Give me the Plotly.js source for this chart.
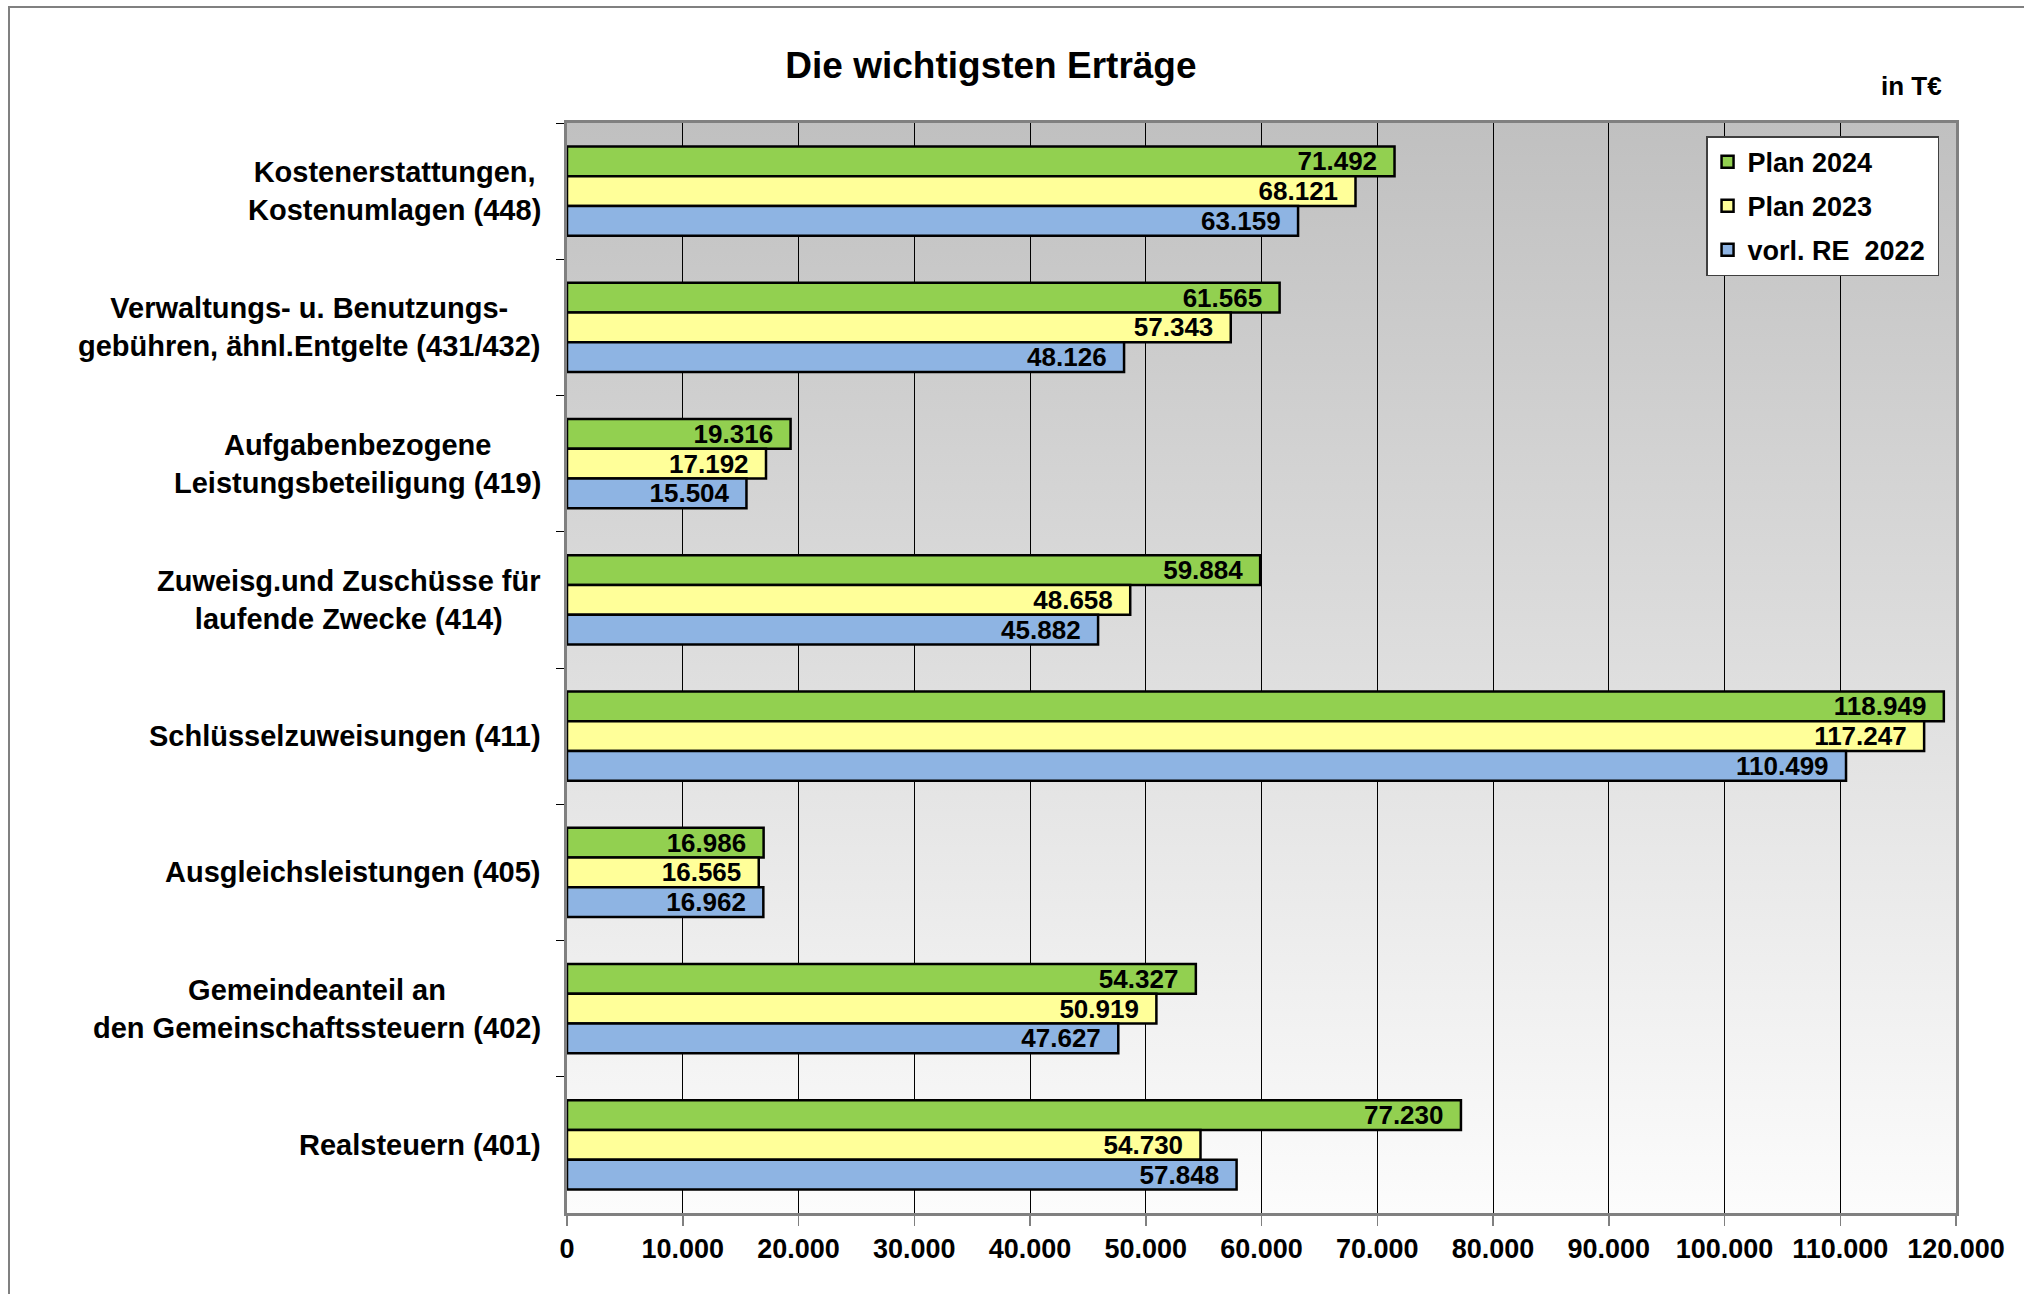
<!DOCTYPE html>
<html>
<head>
<meta charset="utf-8">
<script src="https://cdn.plot.ly/plotly-3.0.1.min.js"></script>
<style>
  html, body { margin: 0; padding: 0; background: #ffffff; }
  #chart { width: 2024px; height: 1294px; }
</style>
</head>
<body>
<div id="chart"></div>
<script>
// ---- data ----
const categories = [
  "Kostenerstattungen,<br>Kostenumlagen (448)",
  "Verwaltungs- u. Benutzungs-<br>gebühren, ähnl.Entgelte (431/432)",
  "Aufgabenbezogene<br>Leistungsbeteiligung (419)",
  "Zuweisg.und Zuschüsse für<br>laufende Zwecke (414)",
  "Schlüsselzuweisungen (411)",
  "Ausgleichsleistungen (405)",
  "Gemeindeanteil an<br>den Gemeinschaftssteuern (402)",
  "Realsteuern (401)"
];
const plan2024 = [71492, 61565, 19316, 59884, 118949, 16986, 54327, 77230];
const plan2023 = [68121, 57343, 17192, 48658, 117247, 16565, 50919, 54730];
const vorlRE2022 = [63159, 48126, 15504, 45882, 110499, 16962, 47627, 57848];
const seriesNames = ["Plan 2024", "Plan 2023", "vorl. RE  2022"];
const seriesColors = ["#92d050", "#ffff99", "#8eb4e3"];
const xTickValues = [0, 10000, 20000, 30000, 40000, 50000, 60000, 70000, 80000, 90000, 100000, 110000, 120000];

const FONT = "'Liberation Sans', Arial, Helvetica, sans-serif";
const seriesValues = [plan2024, plan2023, vorlRE2022];

const traces = seriesValues.map((vals, i) => ({
  type: "bar",
  orientation: "h",
  name: seriesNames[i] + "\u00a0",
  y: categories,
  x: vals,
  marker: { color: seriesColors[i], line: { color: "#000000", width: 2.5 } },
  texttemplate: "%{x:,d}\u00a0\u00a0",
  textposition: "inside",
  insidetextanchor: "end",
  constraintext: "none",
  cliponaxis: false,
  textfont: { family: FONT, size: 26, color: "#000000", weight: "bold" },
  legendgroup: "g" + i,
  hoverinfo: "x+name"
}));

// gradient background for plot area
const gradSvg = '<svg xmlns="http://www.w3.org/2000/svg" width="100" height="100" preserveAspectRatio="none">' +
  '<defs><linearGradient id="g" x1="0" y1="0" x2="0" y2="1">' +
  '<stop offset="0" stop-color="#c0c0c0"/><stop offset="1" stop-color="#fcfcfc"/>' +
  '</linearGradient></defs><rect width="100" height="100" fill="url(#g)"/></svg>';
const gradUri = "data:image/svg+xml;charset=utf-8," + encodeURIComponent(gradSvg);

// category label annotations (centered multi-line blocks, right edge near axis)
const annotations = categories.map(c => ({
  xref: "paper", yref: "y",
  x: 0, y: c,
  xanchor: "right", yanchor: "middle",
  xshift: -24,
  align: "center",
  showarrow: false,
  text: c,
  font: { family: FONT, size: 29, color: "#000000", weight: "bold" }
}));
annotations.push({
  xref: "paper", yref: "paper",
  x: 1, y: 1, xanchor: "right", yanchor: "bottom",
  xshift: -12, yshift: 20,
  showarrow: false,
  text: "in T€",
  font: { family: FONT, size: 26, color: "#000000", weight: "bold" }
});

const layout = {
  width: 2024,
  height: 1294,
  paper_bgcolor: "#ffffff",
  plot_bgcolor: "rgba(0,0,0,0)",
  separators: ",.",
  margin: { l: 567, r: 68, t: 123, b: 81 },
  title: {
    text: "Die wichtigsten Erträge",
    font: { family: FONT, size: 37, color: "#000000", weight: "bold" },
    x: 0.4896, xref: "container", xanchor: "center",
    y: 1 - 65 / 1294, yref: "container", yanchor: "middle"
  },
  barmode: "group",
  bargap: 0.345,
  bargroupgap: 0,
  showlegend: true,
  legend: {
    x: 0.9878, y: 0.988, xanchor: "right", yanchor: "top",
    bgcolor: "#ffffff", bordercolor: "#404040", borderwidth: 1.5,
    font: { family: FONT, size: 27, color: "#000000", weight: "bold" },
    traceorder: "grouped",
    tracegroupgap: 6,
    itemwidth: 30
  },
  xaxis: {
    range: [0, 120000],
    tickvals: xTickValues,
    tickformat: ",d",
    tickfont: { family: FONT, size: 27, color: "#000000", weight: "bold" },
    showgrid: true, gridcolor: "#000000", gridwidth: 1,
    zeroline: false,
    showline: true, linecolor: "#808080", linewidth: 3, mirror: true,
    ticks: "outside", ticklen: 10, tickcolor: "#808080", tickwidth: 1.5,
    ticklabelstandoff: 0,
    fixedrange: true
  },
  yaxis: {
    type: "category",
    categoryorder: "array",
    categoryarray: categories,
    autorange: "reversed",
    showticklabels: false,
    tickson: "boundaries",
    ticks: "outside", ticklen: 8, tickcolor: "#000000", tickwidth: 1,
    showgrid: false,
    zeroline: false,
    showline: true, linecolor: "#808080", linewidth: 3, mirror: true,
    fixedrange: true
  },
  images: [{
    source: gradUri,
    xref: "paper", yref: "paper",
    x: 0, y: 1, sizex: 1, sizey: 1,
    xanchor: "left", yanchor: "top",
    sizing: "stretch", layer: "below"
  }],
  shapes: [{
    type: "rect", xref: "paper", yref: "paper",
    x0: (9 - 567) / 1389, x1: (2060 - 567) / 1389,
    y0: (1213 - 1330) / 1090, y1: (1213 - 7) / 1090,
    line: { color: "#808080", width: 2 },
    fillcolor: "rgba(0,0,0,0)",
    layer: "below"
  }],
  annotations: annotations
};

Plotly.newPlot("chart", traces, layout, { displayModeBar: false, staticPlot: true });
</script>
</body>
</html>
